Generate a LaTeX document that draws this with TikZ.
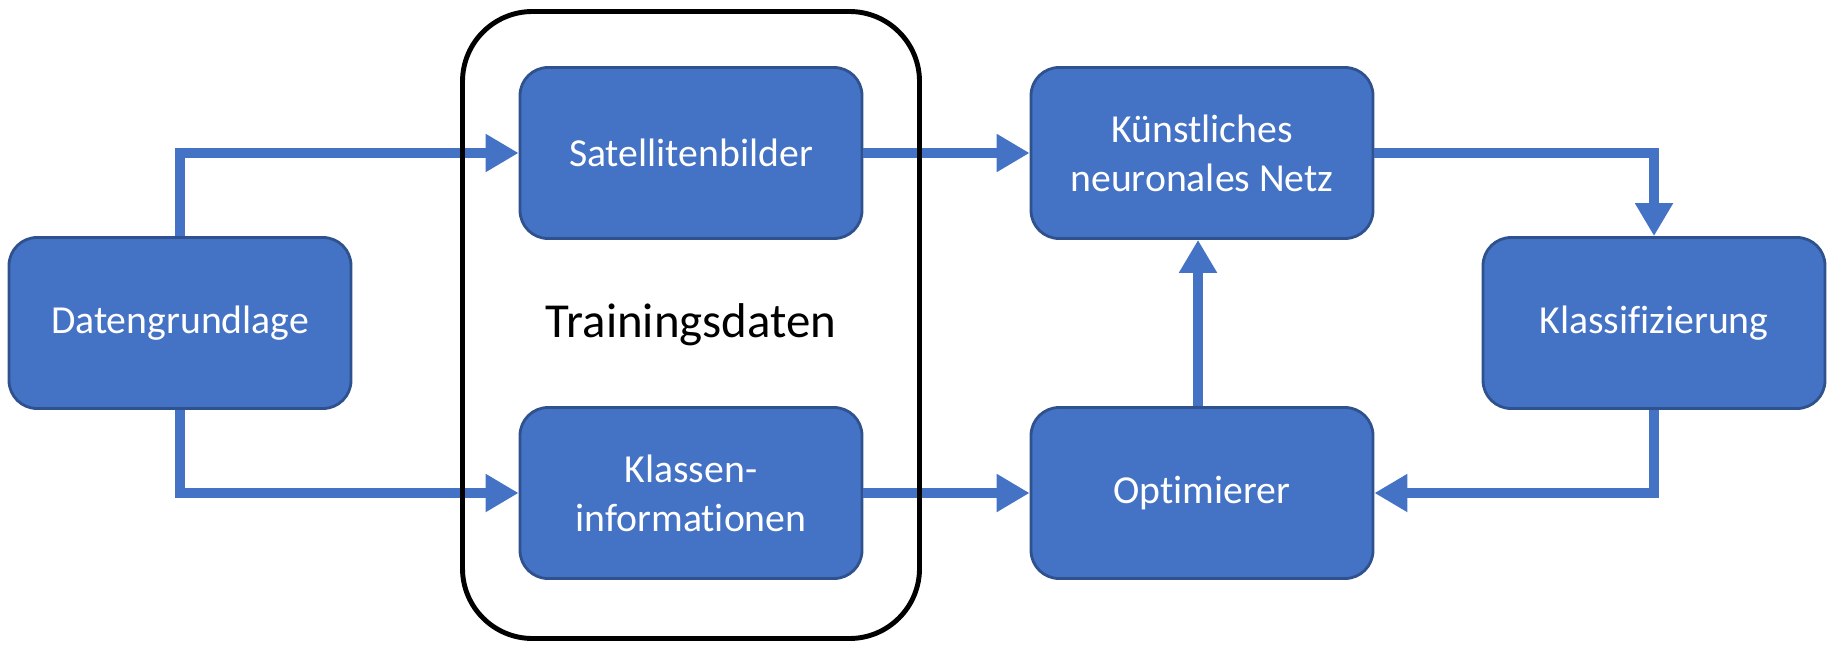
\documentclass[tikz,border=0pt]{standalone}
\usepackage{fontspec}
\setmainfont{Carlito}[Ligatures=NoCommon]
\usetikzlibrary{arrows.meta,calc,positioning}

\definecolor{boxblue}{HTML}{4472C4}
\definecolor{boxedge}{HTML}{2F528F}

\tikzset{
  block/.style={draw=boxedge, line width=0.8pt, fill=boxblue, text=white,
    rounded corners=0.28cm, minimum width=3.42cm, minimum height=1.71cm,
    align=center, font=\fontsize{11.3}{13.9}\selectfont},
  flow/.style={draw=boxblue, line width=3.1pt, -{Triangle[length=3.3mm, width=3.6mm]}},
}

\begin{document}
\begin{tikzpicture}[line join=miter]

		\useasboundingbox (0,0) rectangle (18.37,6.49);

		% blocks
		\node[block] (dgl) at (1.80,3.26) {Datengrundlage};
		\node[block] (sat) at (6.91,4.96) {Satellitenbilder};
		\node[block] (kls) at (6.91,1.56) {Klassen-\\informationen};
		\node[block] (knn) at (12.02,4.96) {Künstliches\\neuronales Netz};
		\node[block] (opt) at (12.02,1.56) {Optimierer};
		\node[block] (kla) at (16.54,3.26) {Klassifizierung};

		% connectors
		\draw[flow] (dgl.north) |- (sat.west);
		\draw[flow] (dgl.south) |- (kls.west);
		\draw[flow] (sat.east) -- (knn.west);
		\draw[flow] (kls.east) -- (opt.west);
		\draw[flow] ($(opt.north)+(-0.04,0)$) -- ($(knn.south)+(-0.04,0)$);
		\draw[flow] (knn.east) -| (kla.north);
		\draw[flow] (kla.south) |- (opt.east);

		% training data frame
		\node[draw=black, line width=1.4pt, rounded corners=0.7cm,
		      minimum width=4.57cm, minimum height=6.27cm,
		      font=\fontsize{13.9}{16}\selectfont] (trn) at (6.91,3.24) {Trainingsdaten};

\end{tikzpicture}
\end{document}
